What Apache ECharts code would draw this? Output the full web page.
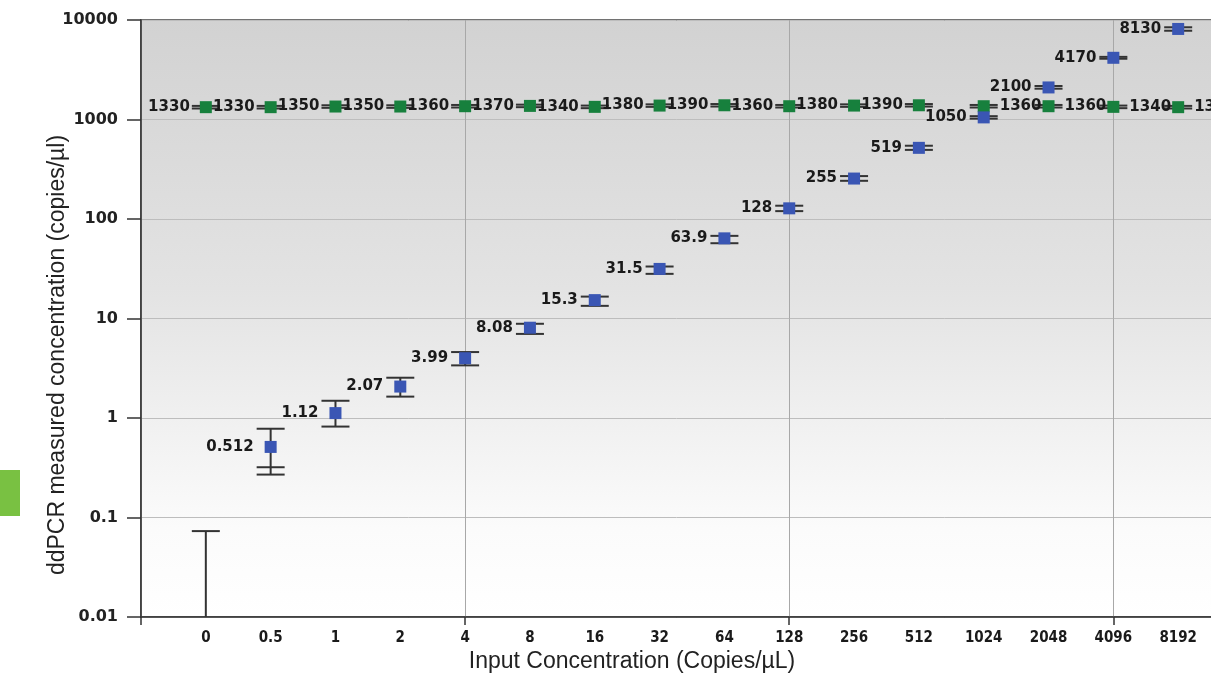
<!DOCTYPE html>
<html>
<head>
<meta charset="utf-8">
<script src="https://cdn.jsdelivr.net/npm/echarts@6/dist/echarts.min.js"></script>
<style>
  html, body { margin: 0; padding: 0; background: #fff; }
  #chart { width: 1211px; height: 681px; }
</style>
</head>
<body>
<div id="chart"></div>
<script>
// input concentrations (copies/uL)
const categories = ['0', '0.5', '1', '2', '4', '8', '16', '32', '64', '128', '256', '512', '1024', '2048', '4096', '8192'];
// blue: target measured concentration, with error bar ends
const measured = [null, 0.512, 1.12, 2.07, 3.99, 8.08, 15.3, 31.5, 63.9, 128, 255, 519, 1050, 2100, 4170, 8130];
const measuredHigh = [0.073, 0.78, 1.49, 2.54, 4.6, 8.85, 16.6, 33.3, 67.7, 136, 270, 545, 1080, 2170, 4260, 8450];
const measuredLow = [null, 0.27, 0.82, 1.64, 3.38, 7.0, 13.4, 28.1, 57.1, 120, 242, 495, 1020, 2040, 4080, 7800];
const measuredLowInner = [null, 0.32, null, null, null, null, null, null, null, null, null, null, null, null, null, null];
// green: reference gene concentration
const reference = [1330, 1330, 1350, 1350, 1360, 1370, 1340, 1380, 1390, 1360, 1380, 1390, 1360, 1360, 1340, 1330];
const referenceHigh = [1370, 1370, 1390, 1390, 1400, 1410, 1380, 1420, 1430, 1400, 1420, 1430, 1400, 1400, 1380, 1370];
const referenceLow = [1290, 1290, 1310, 1310, 1320, 1330, 1300, 1340, 1350, 1320, 1340, 1350, 1320, 1320, 1300, 1290];
// y axis tick labels, 0.01 .. 10000
const yTickLabels = ['0.01', '0.1', '1', '10', '100', '1000', '10000'];

// blank slots on both ends so the points sit inside the plot like the original
const axisCategories = [''].concat(categories, ['']);

const chart = echarts.init(document.getElementById('chart'), null, { renderer: 'canvas' });

function renderErrorBar(params, api) {
    const x = api.value(0);
    const cs = params.coordSys;
    const top = api.coord([x, api.value(1)]);
    const lowVal = api.value(2);
    const bottomY = isNaN(lowVal) ? cs.y + cs.height : api.coord([x, lowVal])[1];
    const half = 14;
    const style = { stroke: '#333', lineWidth: 2 };
    const children = [
        { type: 'line', shape: { x1: top[0], y1: top[1], x2: top[0], y2: bottomY }, style: style },
        { type: 'line', shape: { x1: top[0] - half, y1: top[1], x2: top[0] + half, y2: top[1] }, style: style }
    ];
    if (!isNaN(lowVal)) {
        children.push({ type: 'line', shape: { x1: top[0] - half, y1: bottomY, x2: top[0] + half, y2: bottomY }, style: style });
    }
    const inner = api.value(3);
    if (!isNaN(inner)) {
        const yi = api.coord([x, inner])[1];
        children.push({ type: 'line', shape: { x1: top[0] - half, y1: yi, x2: top[0] + half, y2: yi }, style: style });
    }
    return { type: 'group', children: children };
}

const blueBars = categories.map((c, i) => [c, measuredHigh[i], measuredLow[i], measuredLowInner[i]]);
const greenBars = categories.map((c, i) => [c, referenceHigh[i], referenceLow[i], null]);
const blueData = [];
categories.forEach((c, i) => { if (measured[i] != null) blueData.push([c, measured[i]]); });
const greenData = categories.map((c, i) => ({
    value: [c, reference[i]],
    label: { position: i >= 12 ? 'right' : 'left' }
}));

const labelFont = { fontFamily: 'DejaVu Sans', fontWeight: 'bold', color: '#1a1a1a' };

const option = {
    animation: false,
    grid: {
        left: 141, top: 20, bottom: 64, width: 1102,
        outerBoundsMode: 'none',
        show: true,
        borderColor: '#444', borderWidth: 1.5,
        backgroundColor: {
            type: 'linear', x: 0, y: 0, x2: 0, y2: 1,
            colorStops: [
                { offset: 0, color: '#d2d2d2' },
                { offset: 0.45, color: '#e3e3e3' },
                { offset: 0.85, color: '#fbfbfb' },
                { offset: 1, color: '#ffffff' }
            ]
        }
    },
    graphic: [{
        type: 'rect', left: 0, top: 470,
        shape: { width: 20, height: 46 },
        style: { fill: '#79c142' }
    }],
    xAxis: {
        type: 'category',
        data: axisCategories,
        boundaryGap: false,
        name: 'Input Concentration (Copies/\u00b5L)',
        nameLocation: 'middle',
        nameGap: 33,
        nameMoveOverlap: false,
        nameTextStyle: { fontFamily: 'Liberation Sans', fontSize: 23, color: '#222', padding: [0, 120, 0, 0] },
        axisLine: { lineStyle: { color: '#333', width: 1.5 } },
        axisTick: { show: true, interval: 4, length: 8, lineStyle: { color: '#333', width: 1.5 } },
        axisLabel: {
            interval: 0, margin: 14, fontSize: 15, fontWeight: 'bold', color: '#1a1a1a',
            fontFamily: "'DejaVu Sans Condensed', sans-serif"
        },
        splitLine: { show: true, interval: 4, lineStyle: { color: '#a8a8a8', width: 1 } }
    },
    yAxis: {
        type: 'log',
        logBase: 10,
        min: 0.01,
        max: 10000,
        name: 'ddPCR measured concentration (copies/\u00b5l)',
        nameLocation: 'middle',
        nameGap: 72,
        nameMoveOverlap: false,
        nameTextStyle: { fontFamily: 'Liberation Sans', fontSize: 23, color: '#222', padding: [0, 73, 0, 0] },
        axisLine: { show: true, lineStyle: { color: '#333', width: 1.5 } },
        axisTick: { show: true, length: 14, lineStyle: { color: '#333', width: 1.5 } },
        axisLabel: {
            margin: 23, fontSize: 16, fontWeight: 'bold', color: '#222', fontFamily: 'DejaVu Sans',
            formatter: v => yTickLabels[Math.round(Math.log10(v)) + 2]
        },
        splitLine: { show: true, lineStyle: { color: '#bdbdbd', width: 1 } }
    },
    series: [
        {
            type: 'custom', name: 'reference error', renderItem: renderErrorBar,
            data: greenBars, encode: { x: 0, y: [1, 2, 3] }, z: 2
        },
        {
            type: 'custom', name: 'measured error', renderItem: renderErrorBar,
            data: blueBars, encode: { x: 0, y: [1, 2, 3] }, z: 2
        },
        {
            type: 'scatter', name: 'reference', data: greenData,
            symbol: 'rect', symbolSize: 12, z: 3,
            itemStyle: { color: '#17803d', opacity: 1 },
            label: Object.assign({ show: true, distance: 10, fontSize: 15, formatter: p => String(p.value[1]) }, labelFont)
        },
        {
            type: 'scatter', name: 'measured', data: blueData,
            symbol: 'rect', symbolSize: 12, z: 3,
            itemStyle: { color: '#3a56b4', opacity: 1 },
            label: Object.assign({ show: true, position: 'left', distance: 11, fontSize: 15, formatter: p => String(p.value[1]) }, labelFont)
        }
    ]
};

chart.setOption(option);
</script>
</body>
</html>
